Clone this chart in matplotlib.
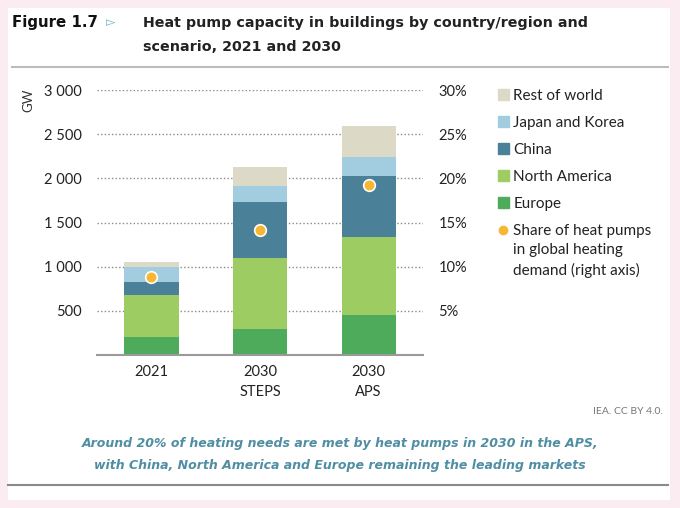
import numpy as np
import matplotlib.pyplot as plt
from matplotlib.patches import Patch, Rectangle
from matplotlib.lines import Line2D
from matplotlib.ticker import FuncFormatter

categories = ["2021", "2030\nSTEPS", "2030\nAPS"]
europe = [200, 290, 450]
north_america = [480, 810, 890]
china = [150, 635, 685]
japan_korea = [170, 175, 215]
rest_of_world = [55, 215, 350]
share = [8.8, 14.1, 19.3]

series = [("Europe", europe, "#4dab5b"),
          ("North America", north_america, "#9dcc62"),
          ("China", china, "#4a8199"),
          ("Japan and Korea", japan_korea, "#a2cde0"),
          ("Rest of world", rest_of_world, "#dcd9c7")]

plt.rcParams['font.family'] = ['Lato', 'DejaVu Sans']

fig = plt.figure(figsize=(6.8, 5.08), dpi=100)
fig.patch.set_facecolor("#fbecf1")
fig.patches.append(Rectangle((8 / 680, 8 / 508), 662 / 680, 492 / 508,
                             transform=fig.transFigure, facecolor="white",
                             edgecolor="none", zorder=-10))

ax = fig.add_axes([97 / 680, 1 - 355 / 508, 326 / 680, 265 / 508])
ax.set_facecolor("none")
x = np.arange(len(categories))
bottom = np.zeros(len(categories))
for name, vals, col in series:
    ax.bar(x, vals, width=0.5, bottom=bottom, color=col, zorder=3)
    bottom += np.array(vals)

ax.set_xlim(-0.5, 2.5)
ax.set_ylim(0, 3000)
ax.set_yticks([500, 1000, 1500, 2000, 2500, 3000])
ax.yaxis.set_major_formatter(FuncFormatter(lambda v, p: f"{int(v):,}".replace(",", " ")))
ax.grid(axis="y", linestyle=(0, (1, 1.6)), color="#8a8a8a", linewidth=1, zorder=1)
for s in ["top", "right", "left"]:
    ax.spines[s].set_visible(False)
ax.spines["bottom"].set_color("#9a9a9a")
ax.spines["bottom"].set_linewidth(1.5)
ax.spines["bottom"].set_zorder(4)
ax.tick_params(axis="both", length=0, labelsize=10.5, colors="#222222")
ax.tick_params(axis="y", pad=11)
ax.tick_params(axis="x", pad=7.5)
ax.set_xticks(x)
ax.set_xticklabels(categories, linespacing=1.5)
ax.text(-0.21, 0.96, "GW", transform=ax.transAxes, rotation=90, fontsize=9.5,
        color="#333333", ha="center", va="center")

ax2 = ax.twinx()
ax2.set_ylim(0, 30)
ax2.set_yticks([5, 10, 15, 20, 25, 30])
ax2.yaxis.set_major_formatter(FuncFormatter(lambda v, p: f"{int(v)}%"))
for s in ax2.spines.values():
    s.set_visible(False)
ax2.tick_params(axis="y", length=0, labelsize=10.5, colors="#222222", pad=11)
ax2.scatter(x, share, s=70, color="#f6b733", edgecolor="white", linewidth=1.2, zorder=5)

handles = [Patch(color=col) for name, vals, col in series[::-1]]
labels = [name for name, vals, col in series[::-1]]
handles.append(Line2D([], [], marker="o", linestyle="none", color="#f6b733", markersize=6))
labels.append("Share of heat pumps")
leg = fig.legend(handles, labels, loc="upper left", bbox_to_anchor=(492 / 680, 1 - 83 / 508),
                 frameon=False, fontsize=11, handlelength=0.7, handleheight=0.7,
                 handletextpad=0.3, labelspacing=0.85, borderaxespad=0)
for t in leg.get_texts():
    t.set_color("#222222")
fig.text(513 / 680, 1 - 250 / 508, "in global heating", fontsize=11,
         color="#222222", va="center")
fig.text(513 / 680, 1 - 270 / 508, "demand (right axis)", fontsize=11,
         color="#222222", va="center")

# title block
fig.text(12 / 680, 1 - 23 / 508, "Figure 1.7", fontsize=10.8, fontweight="bold",
         family="DejaVu Sans", color="#111111", va="center")
fig.text(106 / 680, 1 - 23 / 508, "▻", fontsize=9, color="#6fb2cc", va="center",
         family="DejaVu Sans")
fig.text(143 / 680, 1 - 23 / 508, "Heat pump capacity in buildings by country/region and",
         fontsize=10.3, fontweight="bold", family="DejaVu Sans", color="#222222", va="center")
fig.text(143 / 680, 1 - 47 / 508, "scenario, 2021 and 2030",
         fontsize=10.3, fontweight="bold", family="DejaVu Sans", color="#222222", va="center")
fig.add_artist(Line2D([12 / 680, 668 / 680], [1 - 67 / 508, 1 - 67 / 508],
                      transform=fig.transFigure, color="#bbbbbb", linewidth=1.5))

fig.text(663 / 680, 1 - 412 / 508, "IEA. CC BY 4.0.", fontsize=7.5, color="#777777",
         ha="right", va="center")
fig.text(340 / 680, 1 - 444 / 508,
         "Around 20% of heating needs are met by heat pumps in 2030 in the APS,",
         fontsize=9.0, fontweight="bold", style="italic", family="DejaVu Sans",
         color="#4f8ea3", ha="center", va="center")
fig.text(340 / 680, 1 - 465 / 508,
         "with China, North America and Europe remaining the leading markets",
         fontsize=9.0, fontweight="bold", style="italic", family="DejaVu Sans",
         color="#4f8ea3", ha="center", va="center")
fig.add_artist(Line2D([8 / 680, 668 / 680], [1 - 485 / 508, 1 - 485 / 508],
                      transform=fig.transFigure, color="#8a8a8a", linewidth=1.5))

fig.savefig("out.png", dpi=100, facecolor=fig.get_facecolor())
